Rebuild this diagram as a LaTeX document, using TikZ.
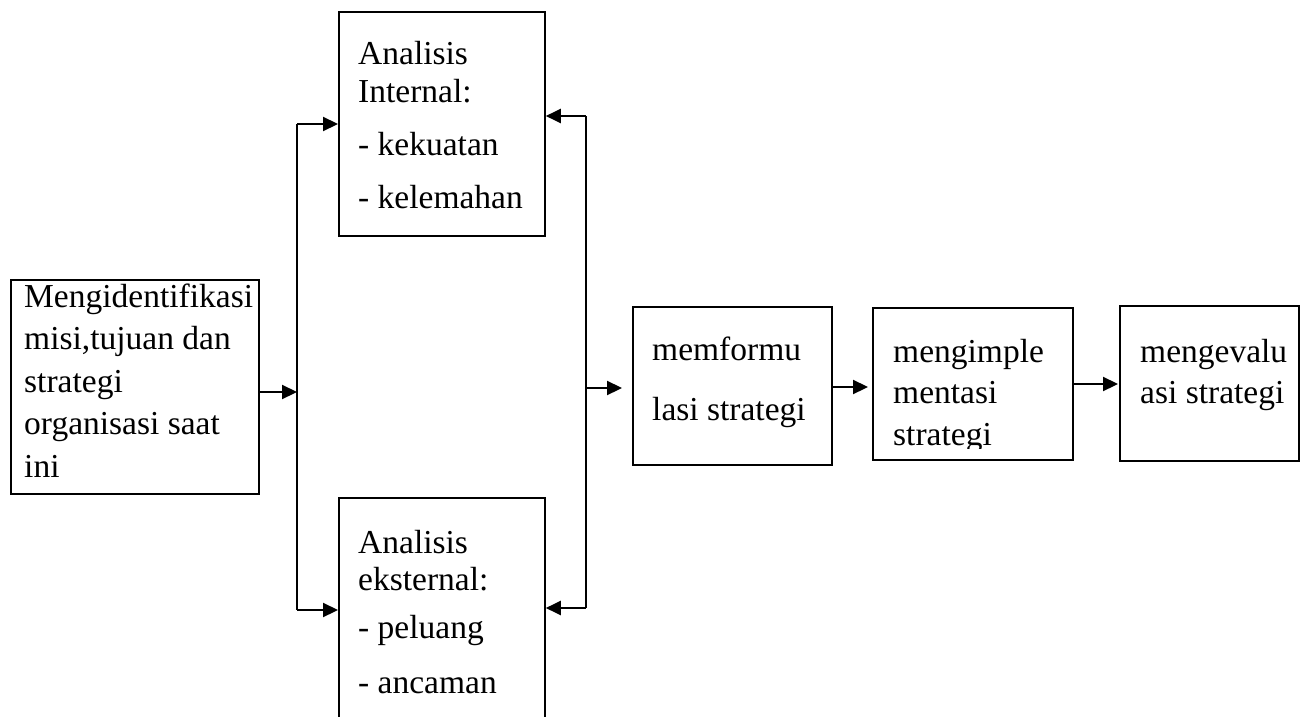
\documentclass[tikz,border=0pt]{standalone}
\usepackage{fontspec}
\setmainfont{Liberation Serif}
\usetikzlibrary{arrows.meta,calc}
\newcommand\boxlines[1]{\begin{tabular}[t]{@{}l@{}}#1\end{tabular}}
\begin{document}
\begin{tikzpicture}[x=1pt,y=-1pt,
  box/.style={draw,line width=1.8pt,inner sep=0pt,anchor=north west},
  txt/.style={anchor=base west,inner sep=0pt},
  conn/.style={line width=2.2pt},
  arr/.style={conn,-{Triangle[length=15pt,width=14pt]}}]
\useasboundingbox (0,0) rectangle (1314,717);
\clip (0,0) rectangle (1314,717);
% boxes
\node[box,minimum width=248pt,minimum height=214pt] (ident) at (10,279) {};
\node[box,minimum width=206pt,minimum height=224pt] (intern) at (338,11) {};
\node[box,minimum width=206pt,minimum height=260pt] (extern) at (338,497) {};
\node[box,minimum width=199pt,minimum height=158pt] (form) at (632,306) {};
\node[box,minimum width=200pt,minimum height=152pt] (impl) at (872,307) {};
\node[box,minimum width=179pt,minimum height=155pt] (eval) at (1119,305) {};
% texts
\node[txt,font=\fontsize{33.5}{42.5}\selectfont] (identt) at (24,307)
  {\boxlines{Mengidentifikasi\\misi,tujuan dan\\strategi\\organisasi saat\\ini}};
\node[txt,font=\fontsize{33.5}{37}\selectfont] (internt) at (358,65)
  {\boxlines{Analisis\\Internal:\\[17pt]- kekuatan\\[15pt]- kelemahan}};
\node[txt,font=\fontsize{33.5}{37}\selectfont] (externt) at (358,553)
  {\boxlines{Analisis\\eksternal:\\[11pt]- peluang\\[18pt]- ancaman}};
\node[txt,font=\fontsize{33.5}{60}\selectfont] (formt) at (652,360)
  {\boxlines{memformu\\lasi strategi}};
\begin{scope}
\clip (872,300) rectangle (1072,448);
\node[txt,font=\fontsize{33.5}{41.5}\selectfont] (implt) at (893,362)
  {\boxlines{mengimple\\mentasi\\strategi}};
\end{scope}
\node[txt,font=\fontsize{33.5}{41}\selectfont] (evalt) at (1140,362)
  {\boxlines{mengevalu\\asi strategi}};
% connectors
\coordinate (lt) at (297,124);
\coordinate (lb) at (297,610);
\coordinate (rt) at (586,116);
\coordinate (rb) at (586,608);
\coordinate (lm) at (297,392);
\coordinate (rm) at (586,388);
\coordinate (a1) at (850,387);
\coordinate (a2) at (1095,384);
\draw[conn] (lt) -- (lb);
\draw[conn] (rt) -- (rb);
\draw[arr] (ident.east |- lm) -- (lm);
\draw[arr] (lt) -- (lt -| intern.west);
\draw[arr] (lb) -- (lb -| extern.west);
\draw[arr] (rt) -- (rt -| intern.east);
\draw[arr] (rb) -- (rb -| extern.east);
\draw[arr,shorten >=10pt] (rm) -- (rm -| form.west);
\draw[arr,shorten >=4pt] (a1 -| form.east) -- (a1 -| impl.west);
\draw[arr,shorten >=1pt] (a2 -| impl.east) -- (a2 -| eval.west);
\end{tikzpicture}
\end{document}
